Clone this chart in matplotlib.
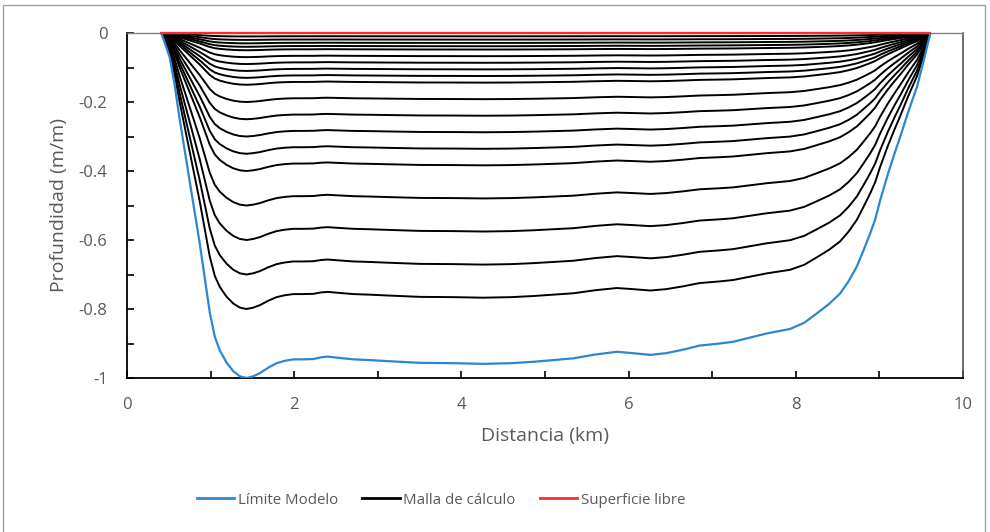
import matplotlib
matplotlib.use("Agg")
import matplotlib.pyplot as plt
from matplotlib.patches import Rectangle
from matplotlib.lines import Line2D
import numpy as np

# Boundary of the model (Límite Modelo)
x_bound = [0.41, 0.44, 0.51, 0.57, 0.63, 0.69, 0.75, 0.81, 0.87, 0.93, 0.99, 1.05,
           1.11, 1.19, 1.27, 1.35, 1.43, 1.51, 1.59, 1.69, 1.79, 1.89, 1.99, 2.11,
           2.23, 2.32, 2.40, 2.55, 2.71, 2.90, 3.11, 3.50, 3.90, 4.26, 4.60, 4.86,
           5.10, 5.34, 5.60, 5.86, 6.05, 6.26, 6.45, 6.65, 6.85, 7.09, 7.25, 7.45,
           7.65, 7.93, 8.10, 8.25, 8.40, 8.53, 8.63, 8.73, 8.81, 8.89, 8.95, 9.01,
           9.10, 9.18, 9.25, 9.35, 9.45, 9.53, 9.58, 9.61]
z_bound = [0.0, -0.02, -0.07, -0.15, -0.25, -0.34, -0.43, -0.52, -0.61, -0.71, -0.81, -0.88,
           -0.92, -0.955, -0.98, -0.995, -1.0, -0.995, -0.986, -0.97, -0.957, -0.95, -0.946, -0.946,
           -0.945, -0.94, -0.938, -0.942, -0.946, -0.948, -0.951, -0.956, -0.957, -0.959, -0.957, -0.953,
           -0.948, -0.943, -0.932, -0.924, -0.928, -0.933, -0.928, -0.918, -0.906, -0.900, -0.895, -0.883,
           -0.871, -0.858, -0.840, -0.813, -0.785, -0.755, -0.720, -0.677, -0.630, -0.581, -0.540, -0.484,
           -0.410, -0.350, -0.300, -0.225, -0.156, -0.080, -0.030, 0.0]

# Relative levels of the calculation mesh (fraction of local depth)
mesh_levels = [0.01, 0.02, 0.03, 0.04, 0.05, 0.07, 0.09, 0.11, 0.13, 0.15,
               0.20, 0.25, 0.30, 0.35, 0.40, 0.50, 0.60, 0.70, 0.80]

# Free surface
x_surf = [0.41, 9.61]
z_surf = [0.0, 0.0]

x_ticks = [0, 2, 4, 6, 8, 10]
y_ticks = [0, -0.2, -0.4, -0.6, -0.8, -1]
y_ticklabels = ["0", "-0.2", "-0.4", "-0.6", "-0.8", "-1"]

series_names = ["Límite Modelo", "Malla de cálculo", "Superficie libre"]
colors = ["#2e86d1", "#000000", "#ff2a2a"]

plt.rcParams['font.family'] = ['Open Sans', 'DejaVu Sans']
txt = "#595959"

fig = plt.figure(figsize=(9.9, 5.32), dpi=100)
ax = fig.add_axes([127/990, 1-378/532, (963-127)/990, (378-33)/532])

xb = np.array(x_bound)
zb = np.array(z_bound)
for s in mesh_levels:
    ax.plot(xb, zb * s, color=colors[1], lw=1.4, solid_capstyle='round', zorder=2)
ax.plot(xb, zb, color=colors[0], lw=1.6, zorder=3)
ax.plot(x_surf, z_surf, color=colors[2], lw=1.6, zorder=4, clip_on=False)

ax.set_xlim(0, 10)
ax.set_ylim(-1, 0)
ax.set_xticks(x_ticks)
ax.set_xticks(np.arange(0, 11, 1), minor=True)
ax.set_yticks(y_ticks)
ax.set_yticklabels(y_ticklabels)
ax.set_yticks(np.arange(-1, 0.01, 0.1), minor=True)
ax.tick_params(which='both', direction='in', length=5, width=1.2, color='black',
               labelsize=12, labelcolor=txt)
ax.tick_params(axis='x', which='both', top=False, pad=14)
ax.tick_params(axis='y', which='both', right=False, pad=14)

ax.spines['left'].set_color('black')
ax.spines['bottom'].set_color('black')
ax.spines['left'].set_linewidth(1.3)
ax.spines['bottom'].set_linewidth(1.3)
ax.spines['top'].set_color('#808080')
ax.spines['right'].set_color('#555555')
ax.spines['top'].set_linewidth(1.0)
ax.spines['right'].set_linewidth(1.2)

ax.set_xlabel("Distancia (km)", fontsize=14, color=txt, labelpad=10)
ax.set_ylabel("Profundidad (m/m)", fontsize=14, color=txt, labelpad=8)

handles = [Line2D([0], [0], color=c, lw=2) for c in colors]
fig.legend(handles, series_names, loc='center', bbox_to_anchor=(441/990, 1-500/532),
           ncol=3, frameon=False, fontsize=10.8, handlelength=2.5, handletextpad=0.25,
           columnspacing=1.6, labelcolor=txt)

fig.patches.append(Rectangle((3/990, -0.05), (985-3)/990, 1-5/532+0.05,
                             transform=fig.transFigure, fill=False,
                             edgecolor='#a0a0a0', lw=1.0))

fig.savefig("out.png", dpi=100)
